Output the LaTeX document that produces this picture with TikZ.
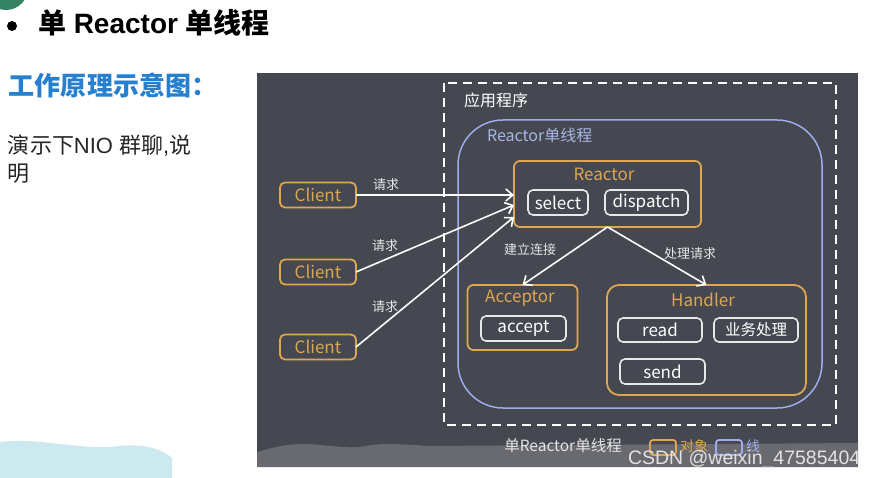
\documentclass[tikz,border=0pt]{standalone}
\usepackage{fontspec}
\usetikzlibrary{arrows.meta,calc}
\setmainfont{Liberation Sans}
\newfontfamily\cjk{Noto Sans CJK SC}
\definecolor{panel}{RGB}{69,72,80}
\definecolor{band}{RGB}{104,106,112}
\definecolor{orng}{RGB}{222,166,80}
\definecolor{boxw}{RGB}{232,232,232}
\definecolor{bluec}{RGB}{160,172,236}
\definecolor{bluetxt}{RGB}{168,182,228}
\definecolor{lblc}{RGB}{230,230,230}
\definecolor{titleblue}{RGB}{38,128,208}
\definecolor{lblue}{RGB}{205,233,240}
\definecolor{greenc}{RGB}{52,130,100}
\definecolor{wmc}{RGB}{226,226,226}
\begin{document}
\begin{tikzpicture}[x=1pt,y=-1pt,
  every node/.style={inner sep=0pt, outer sep=0pt},
  obj/.style={draw=orng, line width=1.8pt, rounded corners=6pt},
  fn/.style={draw=boxw, line width=1.6pt, rounded corners=5pt, text=white, font=\cjk\fontsize{17}{17}\selectfont},
  otext/.style={text=orng, font=\cjk\fontsize{17}{17}\selectfont},
  lbl/.style={text=lblc, font=\cjk\fontsize{13}{13}\selectfont},
  arr/.style={draw=white, line width=1.6pt, -{Straight Barb[length=7pt,width=12pt]}}
]
\useasboundingbox (0,0) rectangle (877,478);
\fill[white] (0,0) rectangle (877,478);
\fill[greenc] (6,-12) circle (22);
\fill[lblue] (0,442) .. controls (40,437) and (80,451) .. (120,446) .. controls (150,443) and (165,452) .. (172,458) -- (172,478) -- (0,478) -- cycle;

% title area
\fill[black] (12,26) circle (5);
\node[anchor=west, font=\fontsize{28}{28}\selectfont] (title) at (38,23) {{\cjk\bfseries 单} {\bfseries Reactor} {\cjk\bfseries 单线程}};
\node[anchor=west, text=titleblue, font=\cjk\bfseries\fontsize{26}{26}\selectfont] (sub) at (9,85) {工作原理示意图：};
\node[anchor=west, text=black!85, font=\fontsize{22}{22}\selectfont] (desc1) at (8,146) {{\cjk 演示下}NIO {\cjk 群聊},{\cjk 说}};
\node[anchor=west, text=black!85, font=\cjk\fontsize{22}{22}\selectfont] (desc2) at (8,174) {明};

% panel
\fill[panel] (257,73) rectangle (858,467);
\fill[band] (257,452) .. controls (275,447) and (290,443) .. (310,444) .. controls (335,446) and (350,449) .. (365,446) .. controls (380,443) and (400,444) .. (430,446) -- (858,443) -- (858,467) -- (257,467) -- cycle;

\draw[white, line width=1.8pt, dash pattern=on 9pt off 6pt] (444,83) rectangle (836,425);
\draw[bluec, line width=1.5pt, rounded corners=45pt] (458,120) rectangle (822,408);
\node[anchor=west, text=white, font=\cjk\fontsize{16}{16}\selectfont] (app) at (464,100) {应用程序};
\node[anchor=west, text=bluetxt, font=\cjk\fontsize{16}{16}\selectfont] (rst) at (487,135) {Reactor单线程};

% reactor
\node[obj, minimum width=187pt, minimum height=66pt] (reactor) at (607.5,194) {};
\node[otext] (reactorlbl) at (604,174) {Reactor};
\node[fn, minimum width=60pt, minimum height=25pt] (select) at (558,202.5) {select};
\node[fn, minimum width=83pt, minimum height=25pt] (dispatch) at (646.5,202.5) {dispatch};

% clients
\node[obj, otext, rounded corners=5pt, minimum width=76pt, minimum height=25pt] (c1) at (318,195) {Client};
\node[obj, otext, rounded corners=5pt, minimum width=76pt, minimum height=25pt] (c2) at (318,272) {Client};
\node[obj, otext, rounded corners=5pt, minimum width=76pt, minimum height=25pt] (c3) at (318,347) {Client};

% acceptor
\node[obj, minimum width=110pt, minimum height=65pt] (acceptor) at (522.5,317.5) {};
\node[otext] (acclbl) at (520,298) {Acceptor};
\node[fn, minimum width=85pt, minimum height=25pt] (accept) at (523.5,328.5) {accept};

% handler
\node[obj, rounded corners=12pt, minimum width=199pt, minimum height=110pt] (handler) at (706.5,340) {};
\node[otext] (hlbl) at (703,300) {Handler};
\node[fn, minimum width=84pt, minimum height=24pt] (read) at (660,330) {read};
\node[fn, minimum width=84pt, minimum height=24pt, font=\cjk\fontsize{15.5}{15.5}\selectfont] (biz) at (756,330) {业务处理};
\node[fn, minimum width=85pt, minimum height=25pt] (send) at (662.5,371.5) {send};

% arrows
\draw[arr] (c1.east) -- (reactor.west |- c1.east);
\draw[arr] (c2.east) -- ($(reactor.west)+(0,11)$);
\draw[arr] (c3.east) -- ($(reactor.west)+(0,23)$);
\draw[arr] (reactor.south) -- (acceptor.north);
\draw[arr] (reactor.south) -- (handler.north);

\node[lbl] (q1) at (386,185) {请求};
\node[lbl] (q2) at (385,246) {请求};
\node[lbl] (q3) at (385,307) {请求};
\node[lbl] (conn) at (530,250) {建立连接};
\node[lbl] (proc) at (690,254) {处理请求};

% legend
\node[text=lblc, font=\cjk\fontsize{15.5}{15.5}\selectfont] (cap) at (563,446) {单Reactor单线程};
\node[draw=orng, line width=1.8pt, rounded corners=3pt, minimum width=26pt, minimum height=15pt] (legobj) at (663,447.5) {};
\node[anchor=west, text=orng, font=\cjk\fontsize{14}{14}\selectfont] (legobjt) at (680,446) {对象};
\node[draw=bluec, line width=1.8pt, rounded corners=3pt, minimum width=26pt, minimum height=15pt] (legthr) at (729,447.5) {};
\node[anchor=west, text=bluec, font=\cjk\fontsize{14}{14}\selectfont] (legthrt) at (746,446) {线};

% watermark
\node[anchor=west, text=wmc, font=\fontsize{19.5}{19.5}\selectfont] (wm) at (628,459) {CSDN @weixin\_47585404};
\end{tikzpicture}
\end{document}
